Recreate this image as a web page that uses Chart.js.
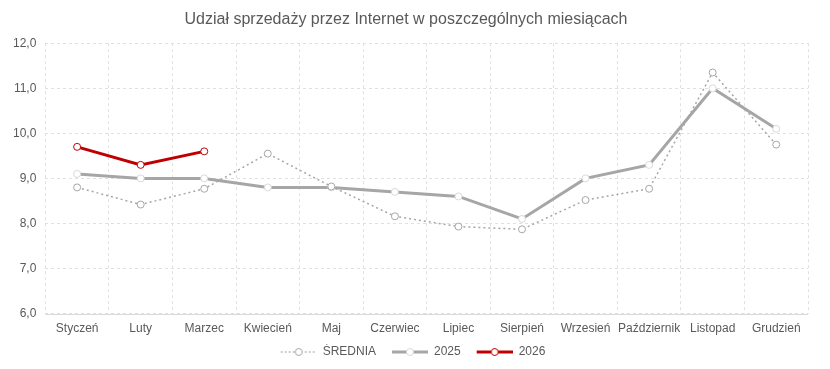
<!DOCTYPE html>
<html lang="pl">
<head>
    <meta charset="UTF-8">
    <title>Udział sprzedaży przez Internet</title>
    <script src="https://cdn.jsdelivr.net/npm/chart.js"></script>
    <style>
        body { margin: 0; background: #fff; }
        .chart-container { width: 830px; height: 369px; }
    </style>
</head>
<body>
    <div class="chart-container">
        <canvas id="salesChart"></canvas>
    </div>
    <script>
        // dane
        const months = ['Styczeń', 'Luty', 'Marzec', 'Kwiecień', 'Maj', 'Czerwiec', 'Lipiec', 'Sierpień', 'Wrzesień', 'Październik', 'Listopad', 'Grudzień'];
        const avgValues = [8.8, 8.42, 8.77, 9.55, 8.82, 8.16, 7.93, 7.87, 8.52, 8.77, 11.35, 9.75];
        const values2025 = [9.1, 9.0, 9.0, 8.8, 8.8, 8.7, 8.6, 8.1, 9.0, 9.3, 11.0, 10.1];
        const values2026 = [9.7, 9.3, 9.6];
        const yTicks = [6, 7, 8, 9, 10, 11, 12];

        const textColor = '#595959';
        const fontFamily = '"Liberation Sans", Arial, sans-serif';

        // ikonka legendy: odstęp + linia + kółko
        const ICON_GAP = 14;
        function legendIcon(color, width, dash, ring) {
            const c = document.createElement('canvas');
            c.width = 36 + ICON_GAP; c.height = 12;
            const g = c.getContext('2d');
            g.strokeStyle = color;
            g.lineWidth = width;
            g.setLineDash(dash);
            g.beginPath();
            g.moveTo(ICON_GAP, 6); g.lineTo(ICON_GAP + 36, 6);
            g.stroke();
            g.setLineDash([]);
            g.lineWidth = 1;
            g.fillStyle = '#fff';
            g.beginPath();
            g.arc(ICON_GAP + 18, 6, 3.5, 0, Math.PI * 2);
            g.fill();
            g.strokeStyle = ring;
            g.stroke();
            return c;
        }

        // linia osi X (ciągła)
        const axisLine = {
            id: 'axisLine',
            afterDatasetsDraw(chart) {
                const { ctx, chartArea } = chart;
                ctx.save();
                ctx.strokeStyle = '#d9d9d9';
                ctx.lineWidth = 1;
                ctx.beginPath();
                ctx.moveTo(chartArea.left, Math.round(chartArea.bottom) + 0.5);
                ctx.lineTo(chartArea.right, Math.round(chartArea.bottom) + 0.5);
                ctx.stroke();
                ctx.restore();
            }
        };

        const ctx = document.getElementById('salesChart').getContext('2d');
        new Chart(ctx, {
            type: 'line',
            data: {
                labels: months,
                datasets: [{
                    label: 'ŚREDNIA',
                    data: avgValues,
                    borderColor: '#a6a6a6',
                    borderWidth: 1.5,
                    borderDash: [2, 3],
                    pointBackgroundColor: '#fff',
                    pointBorderColor: '#a6a6a6',
                    pointBorderWidth: 1,
                    pointRadius: 3.5,
                    icon: legendIcon('#bfbfbf', 1.5, [2, 2], '#a6a6a6')
                }, {
                    label: '2025',
                    data: values2025,
                    borderColor: '#a6a6a6',
                    borderWidth: 3,
                    pointBackgroundColor: '#fff',
                    pointBorderColor: '#d9d9d9',
                    pointBorderWidth: 1,
                    pointRadius: 3.5,
                    icon: legendIcon('#a6a6a6', 3, [], '#d9d9d9')
                }, {
                    label: '2026',
                    data: values2026,
                    borderColor: '#c00000',
                    borderWidth: 3,
                    pointBackgroundColor: '#fff',
                    pointBorderColor: '#c00000',
                    pointBorderWidth: 1,
                    pointRadius: 3.5,
                    icon: legendIcon('#c00000', 3, [], '#c00000')
                }]
            },
            options: {
                responsive: true,
                maintainAspectRatio: false,
                animation: false,
                layout: { padding: { left: 4, right: 22, top: 8, bottom: 1 } },
                plugins: {
                    title: {
                        display: true,
                        text: 'Udział sprzedaży przez Internet w poszczególnych miesiącach',
                        color: textColor,
                        font: { family: fontFamily, size: 16, weight: 'normal' },
                        padding: { top: 2, bottom: 14 }
                    },
                    legend: {
                        position: 'bottom',
                        labels: {
                            usePointStyle: true,
                            pointStyleWidth: 36 + ICON_GAP,
                            boxHeight: 12,
                            color: textColor,
                            font: { family: fontFamily, size: 12 },
                            padding: 2,
                            generateLabels(chart) {
                                return chart.data.datasets.map((ds, i) => ({
                                    text: ds.label,
                                    pointStyle: ds.icon,
                                    fontColor: textColor,
                                    hidden: false,
                                    datasetIndex: i
                                }));
                            }
                        }
                    },
                    tooltip: { enabled: false }
                },
                scales: {
                    x: {
                        offset: true,
                        grid: {
                            offset: true,
                            color: '#e0e0e0',
                            tickLength: 0
                        },
                        border: { display: false, dash: [3, 3] },
                        ticks: {
                            color: textColor,
                            font: { family: fontFamily, size: 12 },
                            padding: 8,
                            maxRotation: 0,
                            autoSkip: false
                        }
                    },
                    y: {
                        min: 6,
                        max: 12,
                        afterBuildTicks(axis) {
                            axis.ticks = yTicks.map(v => ({ value: v }));
                        },
                        grid: { color: '#e0e0e0', tickLength: 0 },
                        border: { display: false, dash: [3, 3] },
                        ticks: {
                            color: textColor,
                            font: { family: fontFamily, size: 12 },
                            padding: 9,
                            callback: v => v.toFixed(1).replace('.', ',')
                        }
                    }
                }
            },
            plugins: [axisLine]
        });
    </script>
</body>
</html>
